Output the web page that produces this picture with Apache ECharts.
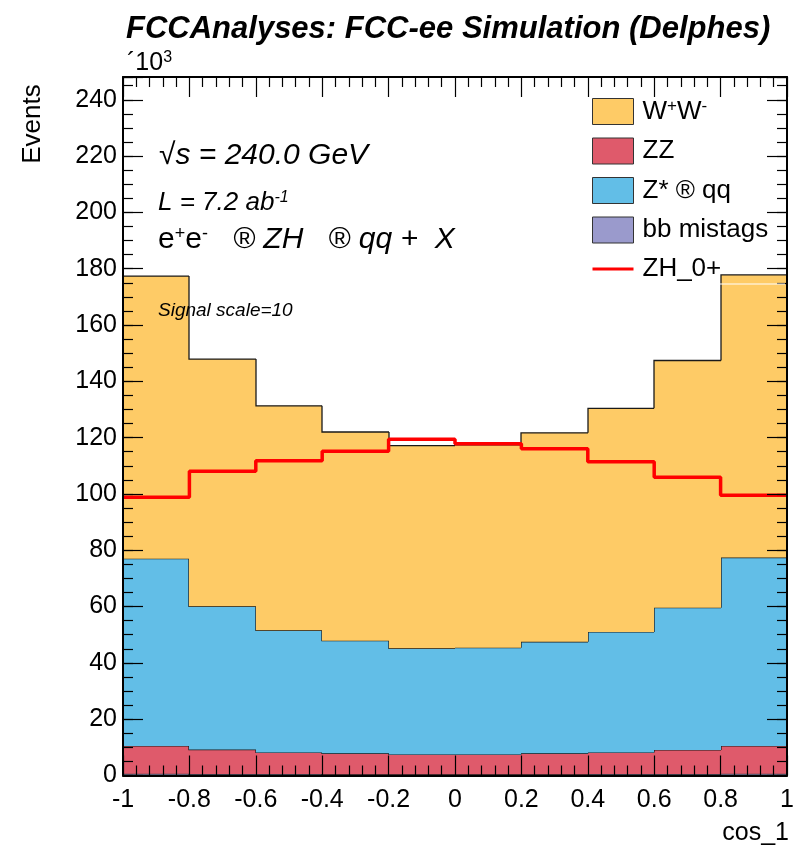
<!DOCTYPE html>
<html>
<head>
<meta charset="utf-8">
<script src="https://cdn.jsdelivr.net/npm/echarts@6/dist/echarts.min.js"></script>
<style>
  html, body { margin: 0; padding: 0; background: #ffffff; }
  #chart { width: 794px; height: 847px; }
</style>
</head>
<body>
<div id="chart"></div>
<script>
// bin edges of cos_1 and stacked contents (x10^3 events per bin)
const binEdges = [-1, -0.8, -0.6, -0.4, -0.2, 0, 0.2, 0.4, 0.6, 0.8, 1];
const bbMistags = [0.6, 0.5, 0.5, 0.4, 0.4, 0.4, 0.4, 0.5, 0.5, 0.6];
const zz = [9.9, 8.7, 7.7, 7.5, 7.1, 7.1, 7.5, 7.7, 8.6, 9.9];
const zqq = [66.5, 50.9, 43.4, 40.0, 37.7, 37.9, 39.6, 42.8, 50.5, 66.9];
const ww = [100.4, 87.8, 79.7, 74.1, 72.0, 72.0, 74.2, 79.4, 87.8, 100.4];
// signal ZH_0+ (already multiplied by the signal scale of 10)
const zhSignal = [98.8, 108.1, 111.8, 115.2, 119.4, 117.8, 116.1, 111.4, 105.9, 99.5];

const yTicks = [0, 20, 40, 60, 80, 100, 120, 140, 160, 180, 200, 220, 240];

const FONT = '"Liberation Sans", Arial, Helvetica, sans-serif';
const yMax = 248.1;

// stack order from the bottom up
const layers = [
  { name: "bb mistags", values: bbMistags, color: "#9A9ACC" },
  { name: "ZZ", values: zz, color: "#DF5A6B" },
  { name: "Z* ® qq", values: zqq, color: "#62BEE7" },
  { name: "WW", values: ww, color: "#FECB66" },
];

let base = zz.map(() => 0);
const stackSeries = layers.map((layer, k) => {
  const data = layer.values.map((v, i) => {
    const prevTop = i > 0 ? base[i - 1] + layer.values[i - 1] : base[i];
    return [binEdges[i], binEdges[i + 1], base[i], base[i] + v, prevTop];
  });
  base = base.map((b, i) => b + layer.values[i]);
  return {
    name: layer.name,
    type: "custom",
    z: 2 + k,
    itemStyle: { color: layer.color },
    encode: { x: [0, 1], y: [2, 3, 4] },
    data: data,
    renderItem: (params, api) => {
      const p0 = api.coord([api.value(0), api.value(2)]);
      const p1 = api.coord([api.value(1), api.value(3)]);
      const pp = api.coord([api.value(0), api.value(4)]);
      const x0 = Math.round(p0[0]);
      const x1 = Math.round(p1[0]);
      return {
        type: "group",
        children: [
          {
            type: "rect",
            shape: { x: x0, y: p1[1], width: x1 - x0, height: p0[1] - p1[1] },
            style: { fill: layer.color },
          },
          {
            type: "polyline",
            shape: { points: [[x0, pp[1]], [x0, p1[1]], [x1, p1[1]]] },
            style: { stroke: "#1a1a1a", lineWidth: 1.3, fill: null },
            z2: 5,
          },
        ],
      };
    },
  };
});

const zhData = binEdges.map((x, i) => [x, zhSignal[Math.min(i, zhSignal.length - 1)]]);

function yAxisDef(position, interval, withLabels, tickLen, showLine) {
  return {
    type: "value",
    position: position,
    min: 0,
    max: yMax,
    interval: interval,
    z: 10,
    axisLine: { show: showLine, onZero: false, lineStyle: { color: "#000", width: 2 } },
    axisTick: { show: true, inside: true, length: tickLen, lineStyle: { color: "#000", width: 1.2 } },
    minorTick: { show: false },
    splitLine: { show: false },
    axisLabel: {
      show: withLabels,
      color: "#000",
      fontFamily: FONT,
      fontSize: 25,
      margin: 6,
      formatter: (v) => (yTicks.indexOf(v) >= 0 ? String(v) : ""),
    },
  };
}

function xAxisDef(position, withLabels) {
  return {
    type: "value",
    position: position,
    min: -1,
    max: 1,
    interval: 0.2,
    z: 10,
    axisLine: { show: true, onZero: false, lineStyle: { color: "#000", width: 2 } },
    axisTick: { show: true, inside: true, length: 20, lineStyle: { color: "#000", width: 1.2 } },
    minorTick: { show: true, splitNumber: 5, length: 10, lineStyle: { color: "#000", width: 1.2 } },
    splitLine: { show: false },
    axisLabel: {
      show: withLabels,
      color: "#000",
      fontFamily: FONT,
      fontSize: 25,
      margin: 12,
    },
  };
}

const chart = echarts.init(document.getElementById("chart"), null, { renderer: "canvas" });
chart.setOption({
  backgroundColor: "#ffffff",
  animation: false,
  grid: { left: 123, right: 7, top: 77, bottom: 71.5, containLabel: false, outerBoundsMode: "none" },
  xAxis: [xAxisDef("bottom", true), xAxisDef("top", false)],
  yAxis: [
    yAxisDef("left", 20, true, 20, true),
    yAxisDef("left", 5, false, 10, false),
    yAxisDef("right", 20, false, 20, true),
    yAxisDef("right", 5, false, 10, false),
  ],
  legend: {
    orient: "vertical",
    left: 592,
    top: 98,
    padding: 0,
    itemWidth: 41,
    itemHeight: 26,
    itemGap: 12.5,
    selectedMode: false,
    textStyle: {
      fontFamily: FONT,
      fontSize: 26,
      color: "#000",
      padding: [0, 0, 0, 4],
      rich: {
        n: { fontFamily: FONT, fontSize: 26, color: "#000" },
        s: { fontFamily: FONT, fontSize: 17, color: "#000", verticalAlign: "top", padding: [0, 0, 10, 0] },
      },
    },
    formatter: (name) => (name === "WW" ? "{n|W}{s|+}{n|W}{s|-}" : name),
    data: [
      { name: "WW", icon: "rect", itemStyle: { borderColor: "#333", borderWidth: 1 } },
      { name: "ZZ", icon: "rect", itemStyle: { borderColor: "#333", borderWidth: 1 } },
      { name: "Z* ® qq", icon: "rect", itemStyle: { borderColor: "#333", borderWidth: 1 } },
      { name: "bb mistags", icon: "rect", itemStyle: { borderColor: "#333", borderWidth: 1 } },
      {
        name: "ZH_0+",
        icon: "path://M0,0 M41,26 M0,11.5 L41,11.5 L41,14.5 L0,14.5 Z",
        itemStyle: { color: "#FF0000", borderWidth: 0 },
      },
    ],
  },
  series: stackSeries.concat([
    {
      name: "ZH_0+",
      type: "line",
      step: "end",
      symbol: "none",
      z: 8,
      itemStyle: { color: "#FF0000" },
      lineStyle: { color: "#FF0000", width: 3.5 },
      data: zhData,
    },
  ]),
  graphic: [
    {
      type: "text",
      x: 126,
      y: 29,
      z: 20,
      style: {
        text: "FCCAnalyses: FCC-ee Simulation (Delphes)",
        font: "italic bold 31px " + FONT,
        fill: "#000",
        verticalAlign: "middle",
      },
    },
    {
      type: "text",
      x: 127,
      y: 63,
      z: 20,
      style: {
        text: "{n|´10}{s|3}",
        fill: "#000",
        verticalAlign: "middle",
        rich: {
          n: { fontFamily: FONT, fontSize: 25, color: "#000" },
          s: { fontFamily: FONT, fontSize: 16, color: "#000", verticalAlign: "top", padding: [0, 0, 10, 0] },
        },
      },
    },
    {
      type: "text",
      x: 33,
      y: 124,
      rotation: Math.PI / 2,
      z: 20,
      style: {
        text: "Events",
        font: "26px " + FONT,
        fill: "#000",
        align: "center",
        verticalAlign: "middle",
      },
    },
    {
      type: "text",
      x: 789,
      y: 833,
      z: 20,
      style: {
        text: "cos_1",
        font: "25px " + FONT,
        fill: "#000",
        align: "right",
        verticalAlign: "middle",
      },
    },
    {
      type: "text",
      x: 159,
      y: 156,
      z: 20,
      style: {
        text: "{r|√}{i|s = 240.0 GeV}",
        fill: "#000",
        verticalAlign: "middle",
        rich: {
          r: { fontFamily: FONT, fontSize: 30, color: "#000" },
          i: { fontFamily: FONT, fontSize: 30, fontStyle: "italic", color: "#000" },
        },
      },
    },
    {
      type: "text",
      x: 158,
      y: 203,
      z: 20,
      style: {
        text: "{i|L = 7.2 ab}{s|-1}",
        fill: "#000",
        verticalAlign: "middle",
        rich: {
          i: { fontFamily: FONT, fontSize: 26, fontStyle: "italic", color: "#000" },
          s: { fontFamily: FONT, fontSize: 16, fontStyle: "italic", color: "#000", verticalAlign: "top", padding: [0, 0, 9, 0] },
        },
      },
    },
    {
      type: "text",
      x: 158,
      y: 240,
      z: 20,
      style: {
        text: "{n|e}{s|+}{n|e}{s|-}{i|   ® ZH   ® qq +  X}",
        fill: "#000",
        verticalAlign: "middle",
        rich: {
          n: { fontFamily: FONT, fontSize: 30, color: "#000" },
          s: { fontFamily: FONT, fontSize: 18, color: "#000", verticalAlign: "top", padding: [0, 0, 10, 0] },
          i: { fontFamily: FONT, fontSize: 30, fontStyle: "italic", color: "#000" },
        },
      },
    },
    {
      type: "text",
      x: 158,
      y: 311,
      z: 20,
      style: {
        text: "Signal scale=10",
        font: "italic 19px " + FONT,
        fill: "#000",
        verticalAlign: "middle",
      },
    },
    {
      type: "line",
      z: 15,
      shape: { x1: 585, y1: 284, x2: 785, y2: 284 },
      style: { stroke: "#ffffff", lineWidth: 1 },
    },
  ],
});
</script>
</body>
</html>
